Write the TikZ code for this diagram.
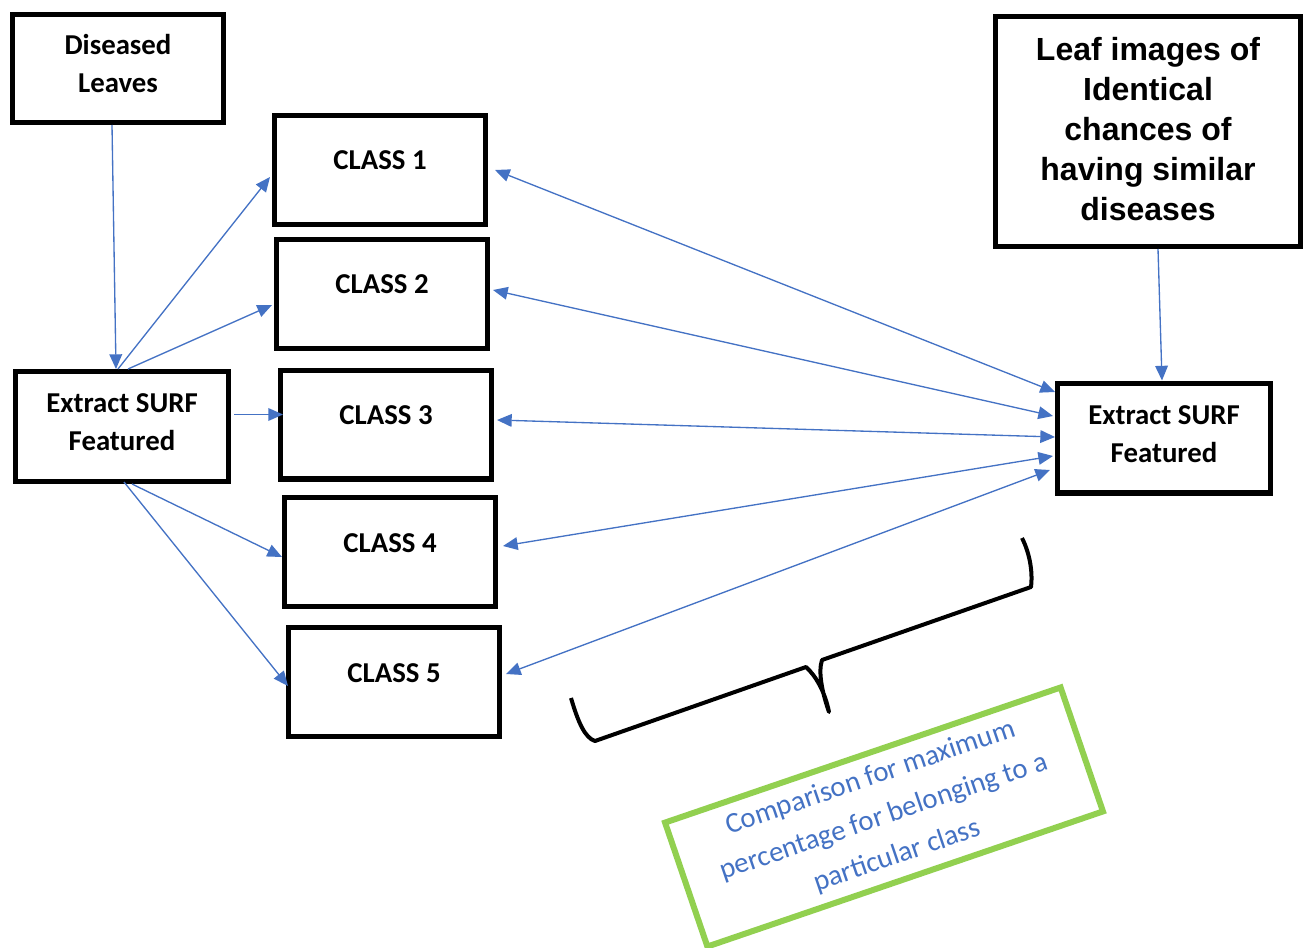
\documentclass[tikz,border=0pt]{standalone}
\usepackage{fontspec}
\setmainfont{Carlito}
\newfontfamily\arialfont{Liberation Sans}
\usetikzlibrary{arrows.meta, calc}
\definecolor{flowblue}{HTML}{4472C4}
\definecolor{notegreen}{HTML}{92D050}
\newcommand{\padbelow}[1]{\rule[-#1]{0pt}{#1}}

\begin{document}
\begin{tikzpicture}[
        x=0.75pt, y=-0.75pt,
        box/.style={rectangle, draw=black, line width=4pt, fill=white,
            minimum width=158pt, minimum height=81.5pt, inner sep=0pt,
            align=center, font=\fontsize{21.6}{28.5}\selectfont\bfseries},
        classbox/.style={box, text height=14pt, text depth=14pt},
        surfbox/.style={box, minimum width=159.5pt, minimum height=82.25pt},
        leafbox/.style={box, minimum width=228.5pt, minimum height=172.25pt,
            font=\arialfont\bfseries\fontsize{24}{30}\selectfont},
        notebox/.style={rectangle, draw=notegreen, line width=4.5pt,
            minimum width=313.5pt, minimum height=98.25pt, inner sep=0pt,
            align=center, text=flowblue, font=\fontsize{21.6}{31}\selectfont},
        every edge/.style={draw=flowblue, line width=1pt,
            -{Triangle[length=11pt, width=9.5pt]}},
        twoway/.style={{Triangle[length=11pt, width=9.5pt]}-{Triangle[length=11pt, width=9.5pt]}},
        bracepen/.style={draw=black, line width=3pt, line join=round},
    ]
        \useasboundingbox (0,0) rectangle (1308,948);

        \node[box, minimum height=80.75pt] (dl) at (118,68.5) {Diseased\\Leaves\padbelow{7.5pt}};
        \node[classbox] (c1) at (380,170) {CLASS 1};
        \node[classbox] (c2) at (382,294) {CLASS 2};
        \node[classbox] (c3) at (386,424.5) {CLASS 3};
        \node[classbox] (c4) at (390,552) {CLASS 4};
        \node[classbox] (c5) at (394,682) {CLASS 5};
        \node[surfbox] (exl) at (122,426.5) {Extract SURF\\Featured\padbelow{6pt}};
        \node[surfbox] (exr) at (1164,438) {Extract SURF\\Featured\padbelow{6pt}};
        \node[leafbox] (leaf) at (1148,131.5)
            {Leaf images of\\Identical\\chances of\\having similar\\diseases\padbelow{4.5pt}};

        \path
            ($(dl.south)+(-6,0)$) edge ($(exl.north)+(-6,0)$)
            ($(exl.north)+(-4,0)$) edge ($(c1.west)+(-2,7)$)
            ($(exl.north)+(6,0)$) edge ($(c2.west)+(-2,11)$)
            ($(exl.east)+(3,-12)$) edge ($(c3.west)+(5,-10)$)
            ($(exl.south)+(10,0)$) edge ($(c4.west)+(0,5)$)
            ($(exl.south)+(2,-2)$) edge ($(c5.west)+(2,4)$)
            ($(leaf.south)+(10,0)$) edge ($(exr.north)+(-2,0)$);

        % matching against the classes
        \path
            ($(c1.east)+(7,0)$) edge[twoway] ($(exr.west)+(0,-46)$)
            ($(c2.east)+(3,-4)$) edge[twoway] ($(exr.west)+(-2,-22)$)
            ($(c3.east)+(3,-4.5)$) edge[twoway] ($(exr.west)+(0,-1)$)
            ($(c4.east)+(5,-6)$) edge[twoway] ($(exr.west)+(-2,18)$)
            ($(c5.east)+(4,-8)$) edge[twoway] ($(exr.west)+(-5,32)$);

        % Brace
        \draw[bracepen] (571,698) .. controls (578,722) and (585,738) .. (595,741)
            -- (806,667) .. controls (816,676) and (825,692) .. (829,712)
            .. controls (822,692) and (818,672) .. (822,660)
            -- (1031,587) .. controls (1033,570) and (1029,552) .. (1022,538);

        \node[notebox, rotate=18.86] (note) at (884,817)
            {Comparison for maximum\\percentage for belonging to a\\particular class};
    \end{tikzpicture}
\end{document}
